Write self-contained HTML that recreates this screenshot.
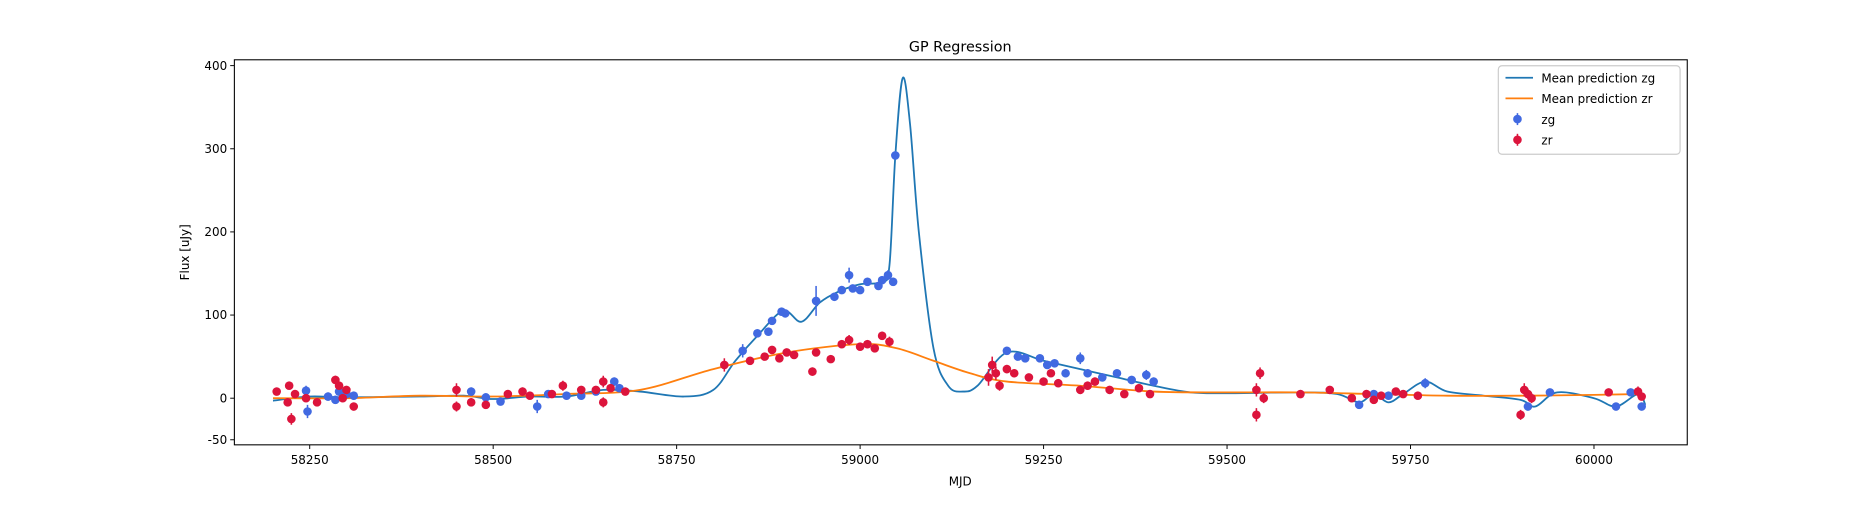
<!DOCTYPE html>
<html><head><meta charset="utf-8"><style>
body{margin:0;background:#fff;font-family:"Liberation Sans","DejaVu Sans",sans-serif}
svg text{font-family:"DejaVu Sans","Liberation Sans",sans-serif;fill:#000}
</style></head><body>
<svg id="chart" width="1875" height="500"><g id="root" transform="scale(1.19579)"></g></svg>
<script>
const zgMjd=[58245,58247,58275,58285,58290,58300,58310,58470,58490,58510,58560,58575,58600,58620,58640,58665,58672,58840,58860,58875,58880,58893,58898,58940,58965,58975,58985,58990,59000,59010,59025,59030,59038,59045,59048,59200,59215,59225,59245,59255,59265,59280,59300,59310,59330,59350,59370,59390,59400,59680,59700,59720,59770,59910,59940,60030,60050,60065];
const zgFlux=[9,-16,2,-2,8,5,3,8,1,-4,-10,5,3,3,8,20,12,57,78,80,93,104,102,117,122,130,148,132,130,140,135,142,148,140,292,57,50,48,48,40,42,30,48,30,25,30,22,28,20,-8,5,3,18,-10,7,-10,7,-10];
const zgErr=[6,8,5,5,5,5,5,5,4,4,8,4,4,4,4,5,5,8,4,4,4,4,4,18,5,4,9,4,4,4,4,4,6,5,5,4,4,4,4,4,4,5,7,5,4,4,4,6,5,5,4,4,6,5,4,4,4,4];
const zrMjd=[58205,58220,58225,58222,58230,58245,58260,58285,58290,58295,58300,58310,58450,58450,58470,58490,58520,58540,58550,58580,58595,58620,58640,58650,58650,58660,58680,58815,58850,58870,58880,58890,58900,58910,58935,58940,58960,58975,58985,59000,59010,59020,59030,59040,59175,59180,59185,59190,59200,59210,59230,59250,59260,59270,59300,59310,59320,59340,59360,59380,59395,59540,59540,59545,59550,59600,59640,59670,59690,59700,59710,59730,59740,59760,59900,59905,59910,59915,60020,60060,60065];
const zrFlux=[8,-5,-25,15,5,0,-5,22,15,0,10,-10,-10,10,-5,-8,5,8,3,5,15,10,10,20,-5,12,8,40,45,50,58,48,55,52,32,55,47,65,70,62,65,60,75,68,25,40,30,15,35,30,25,20,30,18,10,15,20,10,5,12,5,-20,10,30,0,5,10,0,5,-2,3,8,5,3,-20,10,5,0,7,8,2];
const zrErr=[4,5,7,4,4,4,4,5,4,4,4,4,6,8,5,4,4,5,4,4,6,4,4,7,6,4,4,8,4,4,4,4,4,4,5,4,4,4,6,4,4,4,5,6,10,10,8,6,5,5,4,4,4,4,5,5,5,4,4,4,4,8,8,7,6,4,4,4,4,4,4,4,4,4,6,8,6,6,4,6,4];
const meanGMjd=[58200,58250,58300,58400,58460,58500,58550,58600,58650,58700,58760,58800,58830,58860,58895,58920,58945,58970,59000,59030,59040,59048,59058,59068,59080,59100,59120,59140,59160,59200,59250,59300,59350,59400,59450,59500,59600,59650,59680,59700,59720,59740,59770,59800,59850,59900,59920,59950,60000,60030,60060,60070];
const meanGFlux=[-3,2,1,2,3,-1,2,2,10,8,2,10,45,75,105,92,115,128,137,140,160,292,385,330,200,60,15,8,15,55,45,35,25,15,7,6,7,5,-5,5,-5,5,20,8,3,-2,-10,7,0,-10,5,-8];
const meanRMjd=[58200,58300,58400,58500,58600,58700,58800,58900,59000,59050,59100,59150,59200,59300,59400,59500,59600,59700,59800,59900,60000,60060];
const meanRFlux=[0,0,3,2,5,10,35,55,65,60,45,30,20,15,8,7,7,5,3,3,4,5];
const xTicks=[58250,58500,58750,59000,59250,59500,59750,60000];
const yTicks=[-50,0,100,200,300,400];

const NS="http://www.w3.org/2000/svg";
const svg=document.getElementById('root');
const L=196,R=1411,T=50,B=372;
const X=v=>259+(v-58250)*0.61371;
const Y=v=>333-v*0.6953;
function el(t,a,p){const e=document.createElementNS(NS,t);for(const k in a)e.setAttribute(k,a[k]);(p||svg).appendChild(e);return e;}
function txt(x,y,s,anc,size){const e=el('text',{x:x,y:y,'text-anchor':anc,'font-size':size||10});e.textContent=s;return e;}
const t=txt(803,43,'GP Regression','middle',12);

const clip=el('clipPath',{id:'c'});el('rect',{x:L,y:T,width:R-L,height:B-T},clip);
function smooth(xs,ys){let p=xs.map((x,i)=>[X(x),Y(ys[i])]);let d='M'+p[0][0]+','+p[0][1];
 for(let i=0;i<p.length-1;i++){const p0=p[Math.max(0,i-1)],p1=p[i],p2=p[i+1],p3=p[Math.min(p.length-1,i+2)];
 d+=` C${p1[0]+(p2[0]-p0[0])/6},${p1[1]+(p2[1]-p0[1])/6} ${p2[0]-(p3[0]-p1[0])/6},${p2[1]-(p3[1]-p1[1])/6} ${p2[0]},${p2[1]}`;}return d;}
const g=el('g',{'clip-path':'url(#c)'});
const lg=el('path',{d:smooth(meanGMjd,meanGFlux),fill:'none',stroke:'#1f77b4','stroke-width':1.5},g);

const lr=el('path',{d:smooth(meanRMjd,meanRFlux),fill:'none',stroke:'#ff7f0e','stroke-width':1.5},g);

function pts(xs,ys,es,col,name){xs.forEach((m,i)=>{const gg=el('g',{},g);
 
 el('line',{x1:X(m),x2:X(m),y1:Y(ys[i]-es[i]),y2:Y(ys[i]+es[i]),stroke:col,'stroke-width':1.3},gg);
 el('circle',{cx:X(m),cy:Y(ys[i]),r:3.6,fill:col},gg);});}
pts(zgMjd,zgFlux,zgErr,'#4169e1','zg-point');
pts(zrMjd,zrFlux,zrErr,'#dc143c','zr-point');
const frame=el('rect',{x:L,y:T,width:R-L,height:B-T,fill:'none',stroke:'#000','stroke-width':0.9});

xTicks.forEach(v=>{el('line',{x1:X(v),x2:X(v),y1:B,y2:B+3.5,stroke:'#000','stroke-width':0.8});const e=txt(X(v),B+16,String(v),'middle');
 });
yTicks.forEach(v=>{el('line',{x1:L-3.5,x2:L,y1:Y(v),y2:Y(v),stroke:'#000','stroke-width':0.8});const e=txt(L-6,Y(v)+3.5,String(v),'end');
 });
const xl=txt(803,406,'MJD','middle');
const yl=txt(0,0,'Flux [uJy]','middle');yl.setAttribute('transform','translate(158,211) rotate(-90)');

const leg=el('g',{});
el('rect',{x:1253,y:55,width:152,height:74,rx:3,fill:'#fff',stroke:'#ccc'},leg);
[['Mean prediction zg','#1f77b4','l'],['Mean prediction zr','#ff7f0e','l'],['zg','#4169e1','p'],['zr','#dc143c','p']].forEach((e,i)=>{
 const y=65+i*17.3;const it=el('g',{},leg);
 if(e[2]=='l')el('line',{x1:1259,x2:1282,y1:y,y2:y,stroke:e[1],'stroke-width':1.5},it);
 else{el('line',{x1:1269,x2:1269,y1:y-5,y2:y+5,stroke:e[1],'stroke-width':1.3},it);el('circle',{cx:1269,cy:y,r:3.6,fill:e[1]},it);}
 const tt=txt(1289,y+4,e[0],'start');it.appendChild(tt);});
</script>
</body></html>
